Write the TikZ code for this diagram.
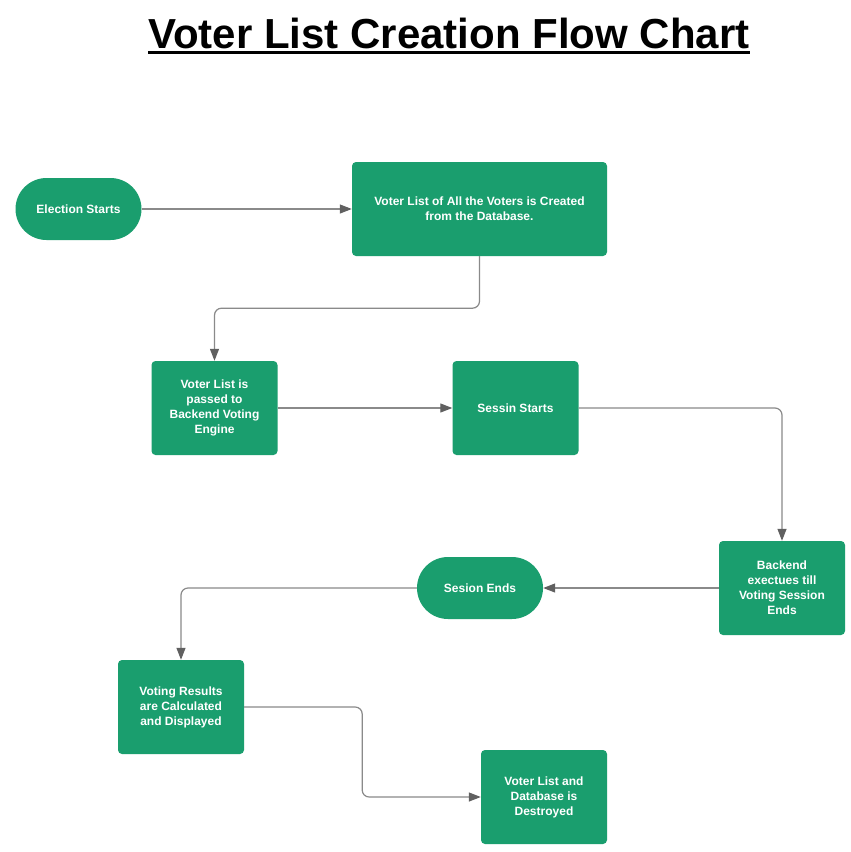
\documentclass[tikz,border=0pt]{standalone}
\usepackage{fontspec}
\setmainfont{Liberation Sans}
\usetikzlibrary{arrows.meta}
\definecolor{boxgreen}{HTML}{1A9E6E}
\definecolor{linegray}{HTML}{8A8A8A}
\definecolor{tipgray}{HTML}{606060}
\tikzset{
  stepbox/.style={fill=boxgreen, rounded corners=4pt, minimum width=126pt,
    minimum height=94pt, text=white, align=center,
    font=\bfseries\fontsize{12}{15}\selectfont},
  terminal/.style={stepbox, minimum height=62pt, rounded corners=31pt},
  flow/.style={draw=linegray, line width=1.2pt, rounded corners=7pt,
    -{Triangle[length=12pt,width=9pt,color=tipgray]}}
}
\begin{document}
\begin{tikzpicture}[x=1pt,y=-1pt]
  \useasboundingbox[fill=white] (0,0) rectangle (851,852);
  % Title
  \node[anchor=base, inner sep=0pt, font=\bfseries\fontsize{42}{50}\selectfont]
    (title) at (449,48) {Voter List Creation Flow Chart};
  \draw[line width=3.2pt] ([yshift=-4.5pt]title.base west) -- ([yshift=-4.5pt]title.base east);
  % Nodes
  \node[terminal] (start) at (78.5,209) {Election Starts};
  \node[stepbox, minimum width=255pt] (create) at (479.5,209)
    {Voter List of All the Voters is Created\\from the Database.};
  \node[stepbox] (passed) at (214.5,408) {Voter List is\\passed to\\Backend Voting\\Engine};
  \node[stepbox] (session) at (515.5,408) {Sessin Starts};
  \node[stepbox] (backend) at (782,588) {Backend\\exectues till\\Voting Session\\Ends};
  \node[terminal] (ends) at (480,588) {Sesion Ends};
  \node[stepbox] (results) at (181,707) {Voting Results\\are Calculated\\and Displayed};
  \node[stepbox] (destroy) at (544,797) {Voter List and\\Database is\\Destroyed};
  % Edges
  \draw[flow] (start) -- (create);
  \draw[flow] (create.south) -- ++(0,52) -| (passed.north);
  \draw[flow] (passed) -- (session);
  \draw[flow] (session.east) -| (backend.north);
  \draw[flow] (backend) -- (ends);
  \draw[flow] (ends.west) -| (results.north);
  \draw[flow] (results.east) -- ++(118,0) |- (destroy.west);
\end{tikzpicture}
\end{document}
